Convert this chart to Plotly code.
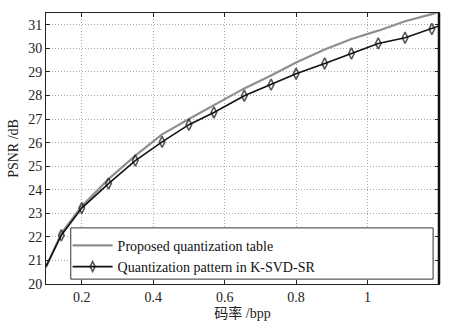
import plotly.graph_objects as go

# Bit rate (bpp) sampled along both curves
rate = [0.1, 0.143, 0.2, 0.275, 0.35, 0.425, 0.5, 0.57, 0.655, 0.73, 0.8,
        0.88, 0.955, 1.03, 1.105, 1.18, 1.2]
# PSNR (dB) of the proposed quantization table
psnr_proposed = [20.7, 22.15, 23.3, 24.45, 25.45, 26.35, 27.0, 27.6, 28.3,
                 28.85, 29.4, 29.95, 30.4, 30.75, 31.15, 31.45, 31.55]
# PSNR (dB) of the quantization pattern in K-SVD-SR
psnr_ksvd = [20.75, 22.07, 23.22, 24.26, 25.24, 26.03, 26.76, 27.28, 27.99,
             28.46, 28.92, 29.36, 29.78, 30.21, 30.45, 30.82, 30.95]

x_ticks = [0.2, 0.4, 0.6, 0.8, 1.0]
x_tick_text = ["0.2", "0.4", "0.6", "0.8", "1"]
y_ticks = list(range(20, 32))

serif = "Liberation Serif"

fig = go.Figure()
fig.add_trace(go.Scatter(
    x=rate, y=psnr_proposed, mode="lines",
    name="Proposed quantization table",
    line=dict(color="#8f8f8f", width=2.2),
))
# markers on the interior samples only; end points just carry the line
marker_sizes = [0] + [8] * (len(rate) - 2) + [0]
fig.add_trace(go.Scatter(
    x=rate, y=psnr_ksvd, mode="lines+markers",
    name="Quantization pattern in K-SVD-SR",
    line=dict(color="#111111", width=1.6),
    marker=dict(symbol="diamond-tall-open", size=marker_sizes, color="#111111",
                line=dict(width=1.6, color="#111111")),
))

axis_common = dict(
    showline=True, linecolor="#222222", linewidth=1, mirror="ticks",
    ticks="inside", ticklen=4, tickcolor="#222222",
    showgrid=True, gridcolor="#a8a8a8", griddash="1px,2px", gridwidth=1,
    zeroline=False,
    tickfont=dict(family=serif, size=14, color="#222222"),
)

fig.update_xaxes(
    range=[0.1, 1.2], tickvals=x_ticks, ticktext=x_tick_text,
    title=dict(text="码率 /bpp", standoff=4,
               font=dict(family="Liberation Serif, Noto Sans CJK SC", size=14, color="#222222")),
    **axis_common,
)
fig.update_yaxes(
    range=[20, 31.5], tickvals=y_ticks,
    title=dict(text="PSNR /dB", standoff=6,
               font=dict(family=serif, size=14, color="#222222")),
    **axis_common,
)

# legend frame
fig.add_shape(type="rect", xref="paper", yref="paper",
              x0=0.063, x1=0.985, y0=0.018, y1=0.207,
              line=dict(color="#333333", width=1), fillcolor="white", layer="above")
# heavier right border of the axes box
fig.add_shape(type="line", xref="paper", yref="paper",
              x0=1, x1=1, y0=0, y1=1, line=dict(color="#111111", width=2.5))

fig.update_layout(
    width=452, height=331,
    margin=dict(l=44, r=13, t=13, b=42),
    paper_bgcolor="white", plot_bgcolor="white",
    font=dict(family=serif),
    showlegend=True,
    legend=dict(x=0.055, y=0.2, xanchor="left", yanchor="top",
                bgcolor="rgba(0,0,0,0)", borderwidth=0,
                font=dict(family=serif, size=14, color="#111111"),
                itemwidth=40, tracegroupgap=0),
)

fig.write_html("out.html")
